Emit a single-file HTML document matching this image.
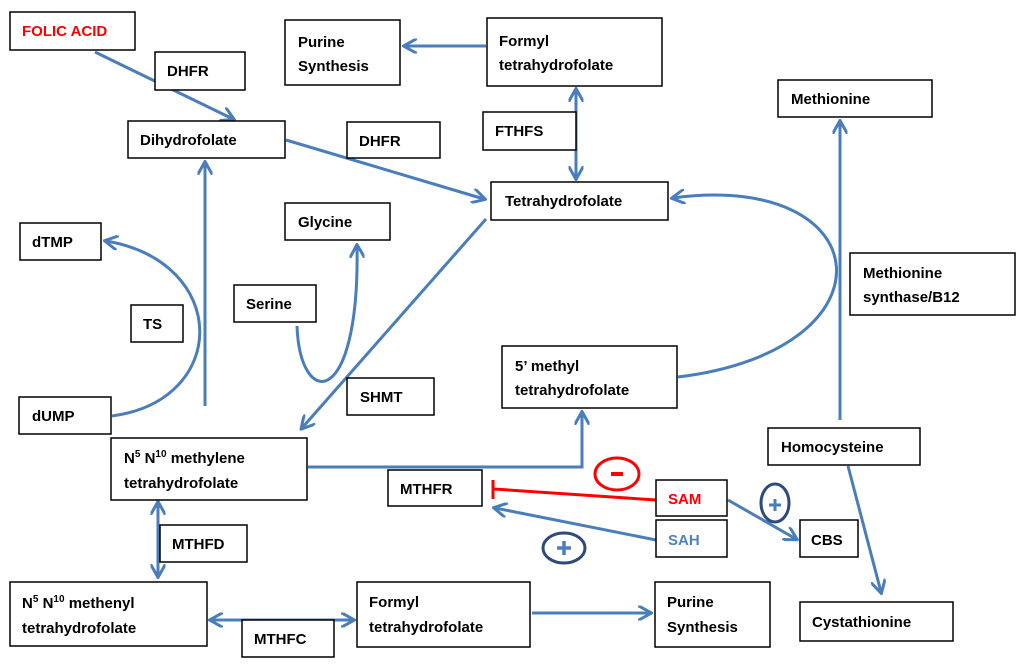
<!DOCTYPE html>
<html><head><meta charset="utf-8"><style>
body{margin:0;background:#fff}
svg{display:block}
text{font-family:"Liberation Sans",sans-serif;font-weight:bold;font-size:15px;fill:#000}
rect{fill:#fff;stroke:#000;stroke-width:1.5}
.l{stroke:#4a7ebb;stroke-width:3;fill:none}
</style></head><body>
<svg width="1024" height="671" viewBox="0 0 1024 671">
<defs>
<marker id="a" viewBox="0 0 10 10" refX="8" refY="5" markerWidth="5" markerHeight="5" orient="auto-start-reverse"><path d="M0,0 L9,5 L0,10" fill="none" stroke="#4a7ebb" stroke-width="2"/></marker>
</defs>
<!-- connectors -->
<path class="l" d="M95,52 L233,119" marker-end="url(#a)"/>
<path class="l" d="M286,140 L484,199" marker-end="url(#a)"/>
<path class="l" d="M486,46 L405,46" marker-end="url(#a)"/>
<path class="l" d="M576,90 L576,178" marker-start="url(#a)" marker-end="url(#a)"/>
<path class="l" d="M486,219 L302,428" marker-end="url(#a)"/>
<path class="l" d="M205,406 L205,163" marker-end="url(#a)"/>
<path class="l" d="M112,416 C230,400 230,262 106,241" marker-end="url(#a)"/>
<path class="l" d="M297,326 C300,410 360,410 357,246" marker-end="url(#a)"/>
<path class="l" d="M678,377 C900,350 880,170 673,198" marker-end="url(#a)"/>
<path class="l" d="M840,420 L840,122" marker-end="url(#a)"/>
<path class="l" d="M308,467 H582 V413" marker-end="url(#a)"/>
<path class="l" d="M848,466 L881,592" marker-end="url(#a)"/>
<path class="l" d="M728,500 L796,539" marker-end="url(#a)"/>
<path class="l" d="M656,540 L495,508" marker-end="url(#a)"/>
<path class="l" d="M158,503 L158,576" marker-start="url(#a)" marker-end="url(#a)"/>
<path class="l" d="M211,620 L353,620" marker-start="url(#a)" marker-end="url(#a)"/>
<path class="l" d="M532,613 L650,613" marker-end="url(#a)"/>
<path d="M656,500 L494,489 M493,480 L493,499" stroke="#f00" stroke-width="3" fill="none"/>
<ellipse cx="617" cy="474" rx="22" ry="16" fill="none" stroke="#f00" stroke-width="3"/>
<rect x="611" y="472" width="12" height="4" style="fill:#f00;stroke:none"/>
<ellipse cx="564" cy="548" rx="21" ry="15" fill="none" stroke="#2e4a7a" stroke-width="3"/>
<path d="M557,548 H571 M564,541 V555" stroke="#4a7ebb" stroke-width="3.5"/>
<ellipse cx="775" cy="503" rx="14" ry="19" fill="none" stroke="#2e4a7a" stroke-width="3"/>
<path d="M769,505 H781 M775,499 V511" stroke="#4a7ebb" stroke-width="3"/>
<!-- boxes -->
<rect x="10" y="12" width="125" height="38"/><text x="22" y="36" style="fill:#f00">FOLIC ACID</text>
<rect x="155" y="52" width="90" height="38"/><text x="167" y="76">DHFR</text>
<rect x="285" y="20" width="115" height="65"/><text x="298" y="47">Purine</text><text x="298" y="71">Synthesis</text>
<rect x="487" y="18" width="175" height="68"/><text x="499" y="46">Formyl</text><text x="499" y="70">tetrahydrofolate</text>
<rect x="778" y="80" width="154" height="37"/><text x="791" y="104">Methionine</text>
<rect x="128" y="121" width="157" height="37"/><text x="140" y="145">Dihydrofolate</text>
<rect x="347" y="122" width="93" height="36"/><text x="359" y="146">DHFR</text>
<rect x="483" y="112" width="93" height="38"/><text x="495" y="136">FTHFS</text>
<rect x="491" y="182" width="177" height="38"/><text x="505" y="206">Tetrahydrofolate</text>
<rect x="285" y="203" width="105" height="37"/><text x="298" y="227">Glycine</text>
<rect x="20" y="223" width="81" height="37"/><text x="32" y="247">dTMP</text>
<rect x="850" y="253" width="165" height="62"/><text x="863" y="278">Methionine</text><text x="863" y="302">synthase/B12</text>
<rect x="234" y="285" width="82" height="37"/><text x="246" y="309">Serine</text>
<rect x="131" y="305" width="52" height="37"/><text x="143" y="329">TS</text>
<rect x="502" y="346" width="175" height="62"/><text x="515" y="371">5’ methyl</text><text x="515" y="395">tetrahydrofolate</text>
<rect x="347" y="378" width="87" height="37"/><text x="360" y="402">SHMT</text>
<rect x="19" y="397" width="92" height="37"/><text x="32" y="421">dUMP</text>
<rect x="111" y="438" width="196" height="62"/><text x="124" y="463">N<tspan dy="-6" font-size="10">5</tspan><tspan dy="6"> N</tspan><tspan dy="-6" font-size="10">10</tspan><tspan dy="6"> methylene</tspan></text><text x="124" y="488">tetrahydrofolate</text>
<rect x="768" y="428" width="152" height="37"/><text x="781" y="452">Homocysteine</text>
<rect x="388" y="470" width="94" height="36"/><text x="400" y="494">MTHFR</text>
<rect x="656" y="480" width="71" height="36"/><text x="668" y="504" style="fill:#f00">SAM</text>
<rect x="656" y="520" width="71" height="37"/><text x="668" y="545" style="fill:#4f81bd">SAH</text>
<rect x="800" y="520" width="58" height="37"/><text x="811" y="545">CBS</text>
<rect x="160" y="525" width="87" height="37"/><text x="172" y="549">MTHFD</text>
<rect x="10" y="582" width="197" height="64"/><text x="22" y="608">N<tspan dy="-6" font-size="10">5</tspan><tspan dy="6"> N</tspan><tspan dy="-6" font-size="10">10</tspan><tspan dy="6"> methenyl</tspan></text><text x="22" y="633">tetrahydrofolate</text>
<rect x="357" y="582" width="173" height="65"/><text x="369" y="607">Formyl</text><text x="369" y="632">tetrahydrofolate</text>
<rect x="655" y="582" width="115" height="65"/><text x="667" y="607">Purine</text><text x="667" y="632">Synthesis</text>
<rect x="242" y="620" width="92" height="37"/><text x="254" y="644">MTHFC</text>
<rect x="800" y="602" width="153" height="39"/><text x="812" y="627">Cystathionine</text>
</svg>
</body></html>
